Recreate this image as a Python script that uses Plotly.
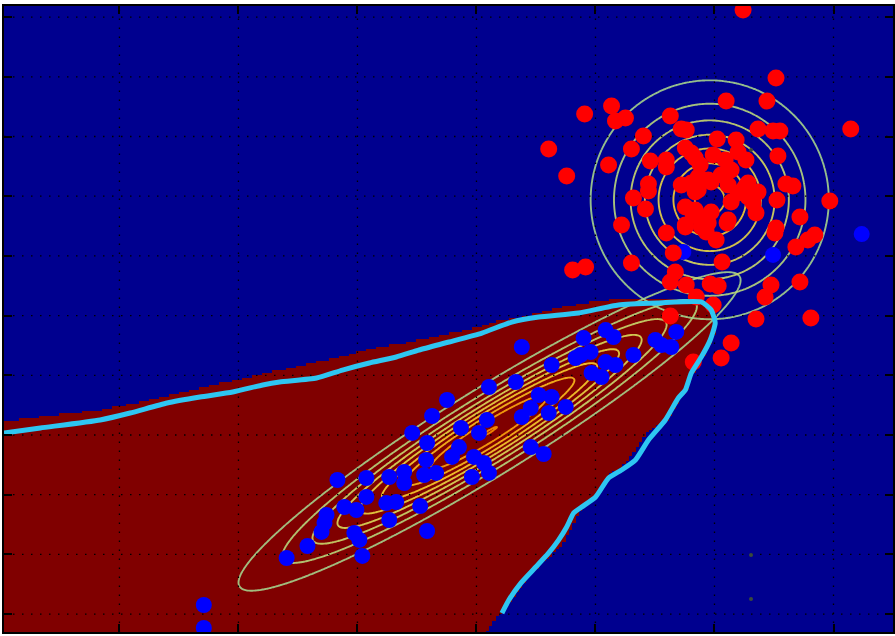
import numpy as np
import plotly.graph_objects as go

# ---- axes -------------------------------------------------------------
X_RANGE = [-3.97, 3.5]
Y_RANGE = [-1.65, 3.593]
X_TICKS = [-3, -2, -1, 0, 1, 2, 3]
Y_TICKS = [-1.5, -1, -0.5, 0, 0.5, 1, 1.5, 2, 2.5, 3, 3.5]

# ---- class A samples (blue) -------------------------------------------
blue_x = [-2.291, -2.291, 3.237, 2.492, 1.738, 0.381, 0.900, 1.085, 1.152, 1.503,
          1.679, 1.637, 1.554, 1.319, 0.875, 0.959, 1.085, 1.168, 0.967, 1.051,
          0.632, 0.833, 0.331, 0.105, -0.247, -0.373, -0.540, -0.130, 0.088, 0.021,
          -0.415, -0.147, 0.523, 0.632, 0.456, 0.381, 0.607, 0.750, 0.456, 0.565,
          -0.021, 0.063, -0.205, -0.423, -0.607, -0.440, -0.339, -0.038, 0.105, -1.168,
          -0.925, -0.733, -0.925, -1.110, -1.009, -1.260, -1.277, -1.302, -0.758, -0.674,
          -0.733, -1.026, -0.984, -1.420, -0.959, -1.595, -0.415, -0.473, -0.607]
blue_y = [-1.424, -1.616, 1.683, 1.508, 1.533, 0.737, 0.812, 0.879, 0.821, 0.796,
          0.863, 0.737, 0.754, 0.670, 0.670, 0.695, 0.611, 0.586, 0.519, 0.486,
          0.586, 0.645, 0.444, 0.402, 0.293, 0.159, 0.017, 0.059, 0.126, 0.017,
          -0.067, -0.101, 0.335, 0.318, 0.226, 0.151, 0.184, 0.235, -0.101, -0.159,
          -0.184, -0.235, -0.184, -0.209, -0.310, -0.335, -0.318, -0.352, -0.318, -0.377,
          -0.360, -0.352, -0.519, -0.603, -0.628, -0.670, -0.737, -0.812, -0.570, -0.561,
          -0.712, -0.821, -0.879, -0.930, -1.013, -1.030, -0.804, -0.595, -0.402]

# ---- class B samples (red) --------------------------------------------
red_x = [2.240, 2.517, 2.098, 2.441, 1.135, 0.909, 1.252, 1.168, 1.629, 3.145,
         2.366, 2.492, 2.550, 1.403, 1.721, 1.763, 2.023, 2.182, 1.302, 1.755,
         2.533, 1.110, 1.461, 1.595, 1.595, 1.838, 1.989, 2.090, 2.198, 2.265,
         1.880, 2.140, 1.863, 1.721, 1.445, 1.445, 1.972, 2.056, 2.115, 2.257,
         2.366, 2.600, 2.659, 1.838, 1.319, 1.755, 1.972, 1.822, 1.420, 2.969,
         2.525, 2.282, 2.349, 2.718, 1.219, 2.106, 1.755, 1.889, 1.930, 2.014,
         1.595, 2.517, 2.508, 2.843, 2.785, 2.684, 1.654, 1.302, 2.064, 0.917,
         0.808, 1.671, 1.629, 1.763, 1.964, 2.031, 2.475, 2.718, 1.847, 1.989,
         2.425, 1.629, 2.349, 2.810, 2.140, 2.056, 1.822, 0.607, 0.758, 1.805,
         1.947, 1.805, 1.863, 2.198, 2.140, 2.324, 1.838, 1.863, 2.115, 1.947,
         1.755, 2.282]
red_y = [3.559, 2.990, 2.797, 2.797, 2.755, 2.688, 2.655, 2.630, 2.672, 2.563,
         2.563, 2.546, 2.546, 2.504, 2.563, 2.554, 2.479, 2.471, 2.395, 2.404,
         2.337, 2.261, 2.295, 2.303, 2.245, 2.320, 2.345, 2.303, 2.370, 2.303,
         2.261, 2.219, 2.161, 2.094, 2.102, 2.044, 2.119, 2.178, 2.094, 2.077,
         2.035, 2.102, 2.085, 2.035, 1.985, 1.910, 1.868, 1.843, 1.893, 1.960,
         1.968, 1.993, 1.859, 1.826, 1.759, 1.776, 1.742, 1.742, 1.700, 1.633,
         1.692, 1.734, 1.692, 1.675, 1.633, 1.575, 1.524, 1.441, 1.449, 1.407,
         1.382, 1.365, 1.281, 1.256, 1.265, 1.248, 1.256, 1.281, 1.156, 1.089,
         1.156, 0.997, 0.972, 0.980, 0.771, 0.645, 0.611, 2.395, 2.169, 2.362,
         2.136, 2.111, 2.052, 2.027, 1.951, 1.943, 1.884, 1.826, 1.801, 1.776,
         1.759, 2.111]

# stray marks
stray_x = [2.307, 2.307, 2.307]
stray_y = [2.387, -1.005, -1.374]

# ---- Gaussian class models ---------------------------------------------
blue_mean = [0.11, 0.03]
blue_cov = [[1.0, 0.6], [0.6, 0.4]]
red_mean = [1.96, 1.97]
red_cov = [[0.25, 0.0], [0.0, 0.25]]
LEVEL_START, LEVEL_STEP, LEVEL_END = 0.086, 0.0885, 0.80

# ---- decision boundary (smooth curve) ----------------------------------
boundary_x = [-3.97, -3.664, -3.162, -2.910, -2.600, -2.324, -2.048, -1.796, -1.654, -1.344,
              -1.126, -0.900, -0.674, -0.482, -0.230, 0.046, 0.297, 0.523, 0.858, 1.193,
              1.528, 1.889, 1.972, 2.006, 1.964, 1.889, 1.805, 1.755, 1.696, 1.587,
              1.445, 1.336, 1.219, 1.110, 1.001, 0.884, 0.817, 0.758, 0.691, 0.607,
              0.498, 0.373, 0.272, 0.214]
boundary_y = [0.017, 0.059, 0.126, 0.184, 0.268, 0.318, 0.360, 0.419, 0.444, 0.477,
              0.544, 0.603, 0.653, 0.712, 0.779, 0.854, 0.946, 0.988, 1.022, 1.089,
              1.106, 1.114, 1.047, 0.938, 0.796, 0.653, 0.519, 0.377, 0.310, 0.126,
              -0.042, -0.209, -0.293, -0.360, -0.519, -0.603, -0.653, -0.771, -0.879, -0.988,
              -1.106, -1.240, -1.382, -1.491]

# ---- classified region (class A area) ----------------------------------
region_x = [-4.10, -3.162, -2.801, -2.466, -2.014, -1.755, -1.403, -1.152, -0.817, -0.549,
            -0.289, -0.004, 0.188, 0.331, 0.523, 0.691, 0.967, 1.252, 1.528, 1.863,
            1.964, 2.014, 2.023, 1.981, 1.905, 1.822, 1.771, 1.713, 1.604, 1.470,
            1.420, 1.336, 1.219, 1.135, 1.085, 0.942, 0.858, 0.800, 0.716, 0.607,
            0.465, 0.373, 0.297, 0.188, 0.130, 0.080, 0.050, -4.10]
region_y = [0.100, 0.209, 0.276, 0.360, 0.461, 0.519, 0.595, 0.653, 0.737, 0.779,
            0.838, 0.896, 0.955, 0.980, 1.022, 1.064, 1.114, 1.147, 1.147, 1.139,
            1.114, 1.005, 0.938, 0.796, 0.653, 0.519, 0.377, 0.310, 0.126, 0.042,
            0.000, -0.126, -0.268, -0.318, -0.377, -0.570, -0.653, -0.771, -0.938, -1.022,
            -1.156, -1.273, -1.382, -1.508, -1.575, -1.650, -1.750, -1.750]

CELL_DX, CELL_DY = 0.028, 0.02


def inside_polygon(px, py, vx, vy):
    """Even-odd ray casting test for many points at once."""
    res = np.zeros(px.shape, dtype=bool)
    n = len(vx)
    j = n - 1
    with np.errstate(divide="ignore", invalid="ignore"):
        for i in range(n):
            xi, yi, xj, yj = vx[i], vy[i], vx[j], vy[j]
            crosses = (yi > py) != (yj > py)
            if yj != yi:
                xint = (xj - xi) * (py - yi) / (yj - yi) + xi
                res ^= crosses & (px < xint)
            j = i
    return res


def gaussian_pdf(mean, cov, X, Y):
    c = np.array(cov, dtype=float)
    inv = np.linalg.inv(c)
    det = np.linalg.det(c)
    dx = X - mean[0]
    dy = Y - mean[1]
    m = inv[0, 0] * dx * dx + 2 * inv[0, 1] * dx * dy + inv[1, 1] * dy * dy
    return np.exp(-0.5 * m) / (2 * np.pi * np.sqrt(det))


# classification image
cx = np.arange(X_RANGE[0] - CELL_DX, X_RANGE[1] + 2 * CELL_DX, CELL_DX)
cy = np.arange(Y_RANGE[0] - CELL_DY, Y_RANGE[1] + 2 * CELL_DY, CELL_DY)
CX, CY = np.meshgrid(cx, cy)
label = inside_polygon(CX, CY, np.array(region_x), np.array(region_y)).astype(int)

# density grid for the contour lines
gx = np.linspace(X_RANGE[0], X_RANGE[1], 520)
gy = np.linspace(Y_RANGE[0], Y_RANGE[1], 380)
GX, GY = np.meshgrid(gx, gy)
pdf_blue = gaussian_pdf(blue_mean, blue_cov, GX, GY)
pdf_red = gaussian_pdf(red_mean, red_cov, GX, GY)

line_scale = [[0.0, "rgb(165,210,140)"], [0.35, "rgb(215,220,95)"],
              [0.65, "rgb(250,205,40)"], [1.0, "rgb(252,145,0)"]]

fig = go.Figure()

fig.add_trace(go.Heatmap(
    x=cx, y=cy, z=label, zmin=0, zmax=1, zsmooth=False,
    colorscale=[[0, "#00008f"], [1, "#800000"]], showscale=False, hoverinfo="skip"))

# dotted grid drawn over the image
gxs, gys = [], []
for t in X_TICKS:
    gxs += [t, t, None]
    gys += [Y_RANGE[0], Y_RANGE[1], None]
for t in Y_TICKS:
    gxs += [X_RANGE[0], X_RANGE[1], None]
    gys += [t, t, None]
fig.add_trace(go.Scatter(x=gxs, y=gys, mode="lines", hoverinfo="skip",
                         line=dict(color="black", width=1.3, dash="1.5px,7.5px")))

fig.add_trace(go.Scatter(x=blue_x, y=blue_y, mode="markers", hoverinfo="skip",
                         marker=dict(color="#0000ff", size=16, line=dict(width=0))))
fig.add_trace(go.Scatter(x=red_x, y=red_y, mode="markers", hoverinfo="skip",
                         marker=dict(color="#ff0000", size=17, line=dict(width=0))))
fig.add_trace(go.Scatter(x=stray_x, y=stray_y, mode="markers", hoverinfo="skip",
                         marker=dict(color="#3a4a3a", size=4, line=dict(width=0))))

for pdf in (pdf_blue, pdf_red):
    fig.add_trace(go.Contour(
        x=gx, y=gy, z=pdf, autocontour=False,
        contours=dict(coloring="lines", start=LEVEL_START, end=LEVEL_END, size=LEVEL_STEP),
        colorscale=line_scale, zmin=LEVEL_START, zmax=LEVEL_END,
        line=dict(width=1.9), showscale=False, opacity=0.9, hoverinfo="skip"))

fig.add_trace(go.Scatter(x=boundary_x, y=boundary_y, mode="lines", hoverinfo="skip",
                         line=dict(color="#2ec6f2", width=5, shape="spline", smoothing=0.5)))

axis_style = dict(showgrid=False, zeroline=False, showticklabels=False,
                  ticks="inside", ticklen=8, tickwidth=1.5, tickcolor="black",
                  showline=True, linecolor="black", linewidth=1.5, mirror="ticks")
fig.update_xaxes(range=X_RANGE, tickvals=X_TICKS, **axis_style)
fig.update_yaxes(range=Y_RANGE, tickvals=Y_TICKS, **axis_style)

fig.update_layout(width=895, height=636, margin=dict(l=4, r=0, t=6, b=4),
                  paper_bgcolor="white", plot_bgcolor="#00008f", showlegend=False)

fig.write_html("out.html")
